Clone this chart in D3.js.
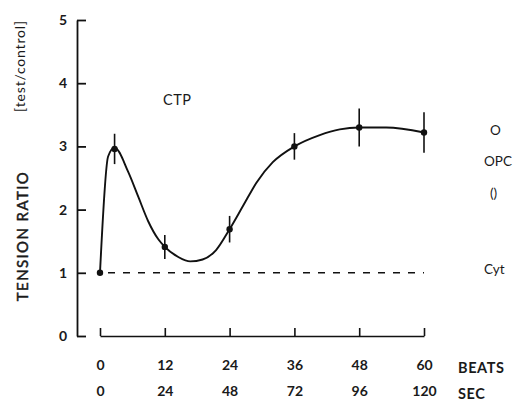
<!DOCTYPE html>
<html><head><meta charset="utf-8">
<script src="https://cdn.jsdelivr.net/npm/d3@7"></script>
<style>
html,body{margin:0;padding:0;background:#fff;}
svg{display:block;}
text{font-family:Lato,"Open Sans",sans-serif;fill:#1a1a1a;}
</style></head>
<body>
<svg id="c" width="513" height="413"></svg>
<script>
// measured points (beats, tension ratio, error half-length)
const beats = [0, 2.7, 12, 24, 36, 48, 60];
const ratio = [1.0, 2.96, 1.41, 1.69, 3.0, 3.30, 3.22];
const errs  = [0, 0.24, 0.19, 0.21, 0.21, 0.30, 0.32];
// hand-fitted curve
const fitBeats = [0, 1.5, 2.7, 5.2, 7.1, 8.9, 10.8, 12, 14.5, 16.7, 19, 21.5, 24, 26.5, 29, 32, 36, 40.7, 44.4, 48, 53, 60];
const fitVals  = [1.0, 2.84, 2.98, 2.6, 2.2, 1.82, 1.53, 1.41, 1.25, 1.18, 1.21, 1.36, 1.69, 2.06, 2.43, 2.75, 3.0, 3.18, 3.27, 3.30, 3.30, 3.22];
const beatTicks = [0, 12, 24, 36, 48, 60];
const secLabels = ["0", "24", "48", "72", "96", "120"];
const yTicks = [0, 1, 2, 3, 4, 5];
const baseline = 1;
const sideLabels = ["O", "OPC", "()", "Cyt"];
const sideVals = [3.26, 2.76, 2.26, 1.05];

const svg = d3.select("#c");
const x = d3.scaleLinear().domain([0, 60]).range([100, 424]);
const y = d3.scaleLinear().domain([0, 5]).range([336, 20]);

// y axis
const yAx = svg.append("g").attr("transform", "translate(77,0)")
  .call(d3.axisLeft(y).tickValues(yTicks).tickFormat(d3.format("d"))
    .tickSizeInner(-9).tickSizeOuter(0).tickPadding(10));
yAx.selectAll("path,line").attr("stroke", "#111").attr("stroke-width", 1.8);
yAx.selectAll("text").attr("font-size", 14).attr("font-weight", 700)
  .attr("font-family", "Lato, sans-serif").attr("fill", "#1a1a1a");

// x axis (beats)
const xAx = svg.append("g").attr("transform", "translate(0,336)")
  .call(d3.axisBottom(x).tickValues(beatTicks).tickFormat(d3.format("d"))
    .tickSizeInner(-8).tickSizeOuter(0).tickPadding(24));
xAx.selectAll("path,line").attr("stroke", "#111").attr("stroke-width", 1.6);
xAx.selectAll("text").attr("font-size", 14).attr("font-weight", 700)
  .attr("font-family", "Lato, sans-serif").attr("fill", "#1a1a1a");

// second row (seconds)
const sAx = svg.append("g").attr("transform", "translate(0,336)")
  .call(d3.axisBottom(x).tickValues(beatTicks).tickFormat((d, i) => secLabels[i])
    .tickSize(0).tickPadding(50));
sAx.select(".domain").remove();
sAx.selectAll("text").attr("font-size", 14).attr("font-weight", 700)
  .attr("font-family", "Lato, sans-serif").attr("fill", "#1a1a1a");

svg.append("text").attr("x", 458).attr("y", 368).attr("dy", "0.35em")
  .attr("font-size", 14.5).attr("font-weight", 700).attr("letter-spacing", 0.6).text("BEATS");
svg.append("text").attr("x", 458).attr("y", 394).attr("dy", "0.35em")
  .attr("font-size", 14.5).attr("font-weight", 700).attr("letter-spacing", 0.6).text("SEC");

// axis titles
svg.append("text").attr("transform", "translate(28,236) rotate(-90)")
  .attr("text-anchor", "middle").attr("font-size", 15).attr("letter-spacing", 1.4)
  .attr("stroke", "#1a1a1a").attr("stroke-width", 0.45)
  .text("TENSION RATIO");
svg.append("text").attr("transform", "translate(25,66) rotate(-90)")
  .attr("text-anchor", "middle").attr("font-size", 14).attr("letter-spacing", 0.8)
  .text("[test/control]");

svg.append("text").attr("x", 163).attr("y", 105).attr("font-size", 14.5).attr("letter-spacing", 0.5).text("CTP");

// dashed baseline
svg.append("line").attr("x1", x(0)).attr("x2", x(60)).attr("y1", y(baseline)).attr("y2", y(baseline))
  .attr("stroke", "#111").attr("stroke-width", 1.5).attr("stroke-dasharray", "7,8")
  .attr("stroke-dashoffset", -8);

// curve
const pts = fitBeats.map((b, i) => [b, fitVals[i]]);
svg.append("path").datum(pts)
  .attr("d", d3.line().x(d => x(d[0])).y(d => y(d[1])).curve(d3.curveMonotoneX))
  .attr("fill", "none").attr("stroke", "#111").attr("stroke-width", 1.9);

// error bars + points
const data = beats.map((b, i) => ({b, v: ratio[i], e: errs[i]}));
svg.append("g").selectAll("line").data(data.filter(d => d.e > 0)).join("line")
  .attr("x1", d => x(d.b)).attr("x2", d => x(d.b))
  .attr("y1", d => y(d.v + d.e)).attr("y2", d => y(d.v - d.e))
  .attr("stroke", "#111").attr("stroke-width", 1.6);
svg.append("g").selectAll("circle").data(data).join("circle")
  .attr("cx", d => x(d.b)).attr("cy", d => y(d.v)).attr("r", 3.2).attr("fill", "#111");

// cut-off labels at right edge
svg.append("g").selectAll("text").data(sideLabels).join("text")
  .attr("x", (d, i) => (d.length > 2 ? 484 : 490))
  .attr("y", (d, i) => y(sideVals[i])).attr("dy", "0.35em")
  .attr("font-size", 13.5).text(d => d);
</script>
</body></html>
